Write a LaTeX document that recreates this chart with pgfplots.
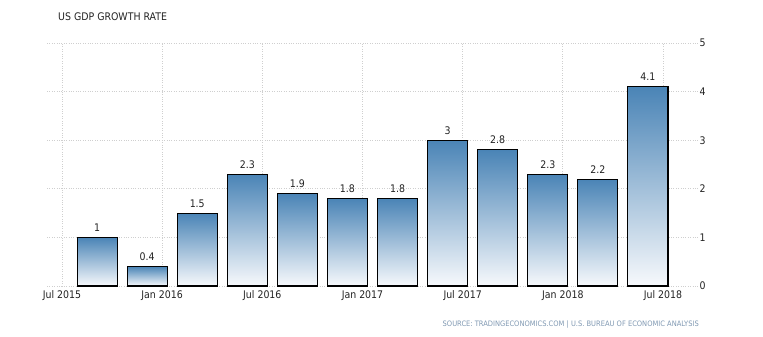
\documentclass[border=0pt]{standalone}
\usepackage{pgfplots}
\pgfplotsset{compat=1.18}
\usepackage{fontspec}
\setmainfont{DejaVu Sans Condensed}
\definecolor{bartop}{HTML}{4A84B6}
\definecolor{barbot}{HTML}{F7F9FC}
\definecolor{gridc}{HTML}{CFCFCF}
\definecolor{srcc}{HTML}{7F98B2}
\definecolor{txt}{HTML}{222222}
\pgfplotsset{gbar/.style={draw=black, line width=1.1pt, top color=bartop, bottom color=barbot}}
\begin{document}
\begin{tikzpicture}[x=1bp,y=1bp]
\path[use as bounding box] (0,0) rectangle (763,336);
\node[anchor=west,font=\fontsize{10.5}{12}\selectfont,text=txt,inner sep=0] at (58,319) {US GDP GROWTH RATE};
\node[anchor=east,font=\fontsize{7.5}{9}\selectfont,text=srcc,inner sep=0] at (699,11) {SOURCE: TRADINGECONOMICS.COM \textbar{} U.S. BUREAU OF ECONOMIC ANALYSIS};
\begin{axis}[
  at={(47bp,50bp)}, anchor=south west,
  scale only axis, width=651bp, height=243bp,
  xmin=-1, xmax=12, ymin=0, ymax=5,
  axis line style={draw=none},
  ybar, bar width=0.8, bar shift=0pt,
  xtick={-0.7,1.3,3.3,5.3,7.3,9.3,11.3},
  xticklabels={Jul 2015,Jan 2016,Jul 2016,Jan 2017,Jul 2017,Jan 2018,Jul 2018},
  ytick={0,1,2,3,4,5},
  yticklabel pos=right,
  xtick pos=bottom,
  grid=major,
  major grid style={gridc, dotted, line width=0.7pt},
  major tick length=0pt,
  tick label style={font=\fontsize{10.5}{12}\selectfont, text=txt},
  xticklabel style={yshift=-1bp},
  yticklabel style={xshift=-2bp},
  /pgf/number format/assume math mode=true,
  nodes near coords,
  point meta=explicit symbolic,
  every node near coord/.append style={font=\fontsize{10.5}{12}\selectfont, text=txt, yshift=2bp},
]
\addplot[gbar] coordinates {(0,1)[1]};
\addplot[gbar] coordinates {(1,0.4)[0.4]};
\addplot[gbar] coordinates {(2,1.5)[1.5]};
\addplot[gbar] coordinates {(3,2.3)[2.3]};
\addplot[gbar] coordinates {(4,1.9)[1.9]};
\addplot[gbar] coordinates {(5,1.8)[1.8]};
\addplot[gbar] coordinates {(6,1.8)[1.8]};
\addplot[gbar] coordinates {(7,3)[3]};
\addplot[gbar] coordinates {(8,2.8)[2.8]};
\addplot[gbar] coordinates {(9,2.3)[2.3]};
\addplot[gbar] coordinates {(10,2.2)[2.2]};
\addplot[gbar] coordinates {(11,4.1)[4.1]};
\end{axis}
\end{tikzpicture}
\end{document}
